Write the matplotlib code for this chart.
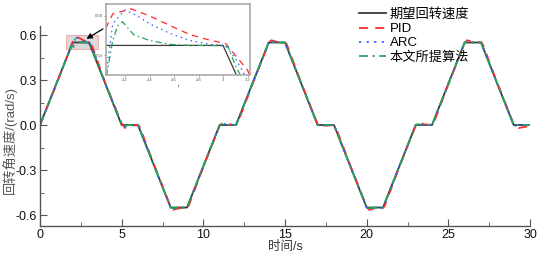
import matplotlib
matplotlib.use("Agg")
import matplotlib.pyplot as plt
from matplotlib.patches import Rectangle

plt.rcParams['font.family'] = ['Liberation Sans', 'Noto Sans CJK SC', 'DejaVu Sans']

# desired angular velocity
t_ref = [0, 2, 3, 5, 6, 8, 9, 11, 12, 14, 15, 17, 18, 20, 21, 23, 24, 26, 27, 29, 30]
v_ref = [0, 0.55, 0.55, 0, 0, -0.55, -0.55, 0, 0, 0.55, 0.55, 0, 0, -0.55, -0.55,
         0, 0, 0.55, 0.55, 0, 0]

# PID
t_pid = [0, 1.0, 1.95, 2.05, 2.1, 2.25, 2.4, 2.57, 2.73, 2.9, 3.02, 3.1, 3.2, 4.0,
         5.0, 5.2, 5.5, 6.0, 6.1, 7.0, 8.0, 8.15, 8.5, 9.0, 9.1, 10.0,
         11.0, 11.2, 11.5, 12.0, 12.1, 13.0, 14.0, 14.15, 14.5, 15.0, 15.1, 16.0,
         17.0, 17.2, 17.5, 18.0, 18.1, 19.0, 20.0, 20.15, 20.5, 21.0, 21.1, 22.0,
         23.0, 23.2, 23.5, 24.0, 24.1, 25.0, 26.0, 26.15, 26.5, 27.0, 27.1, 28.0,
         29.0, 29.3, 29.8, 30.0]
v_pid = [0, 0.27, 0.54, 0.569, 0.582, 0.587, 0.58, 0.57, 0.561, 0.555, 0.552, 0.54, 0.525, 0.28,
         0.01, -0.02, -0.005, 0.0, -0.01, -0.27, -0.545, -0.565, -0.555, -0.552, -0.54, -0.28,
         -0.005, 0.018, 0.005, 0.0, 0.012, 0.27, 0.545, 0.565, 0.555, 0.552, 0.54, 0.28,
         0.005, -0.018, -0.005, 0.0, -0.012, -0.27, -0.545, -0.565, -0.555, -0.552, -0.54, -0.28,
         -0.005, 0.018, 0.005, 0.0, 0.012, 0.27, 0.545, 0.565, 0.555, 0.552, 0.54, 0.28,
         0.005, -0.02, -0.01, -0.008]

# ARC
t_arc = [0, 1.0, 1.95, 2.05, 2.1, 2.2, 2.3, 2.4, 2.57, 2.73, 2.9, 3.02, 3.1, 3.2, 4.0,
         5.0, 5.2, 5.5, 6.0, 7.0, 8.0, 8.15, 8.5, 9.0, 10.0,
         11.0, 11.2, 11.5, 12.0, 13.0, 14.0, 14.15, 14.5, 15.0, 16.0,
         17.0, 17.2, 17.5, 18.0, 19.0, 20.0, 20.15, 20.5, 21.0, 22.0,
         23.0, 23.2, 23.5, 24.0, 25.0, 26.0, 26.15, 26.5, 27.0, 28.0,
         29.0, 29.2, 29.5, 30.0]
v_arc = [0, 0.275, 0.535, 0.525, 0.572, 0.586, 0.58, 0.572, 0.562, 0.555, 0.551, 0.55, 0.537, 0.515, 0.275,
         0.005, -0.012, 0.0, 0.0, -0.275, -0.548, -0.558, -0.55, -0.55, -0.275,
         0.0, 0.01, 0.0, 0.0, 0.275, 0.548, 0.558, 0.55, 0.55, 0.275,
         0.0, -0.01, 0.0, 0.0, -0.275, -0.548, -0.558, -0.55, -0.55, -0.275,
         0.0, 0.01, 0.0, 0.0, 0.275, 0.548, 0.558, 0.55, 0.55, 0.275,
         0.0, -0.008, 0.0, 0.0]

# proposed method
t_new = [0, 1.0, 1.95, 2.05, 2.1, 2.14, 2.18, 2.27, 2.4, 2.57, 2.73, 2.9, 3.04, 3.1, 3.2, 4.0,
         5.0, 5.2, 5.4, 6.0, 7.0, 8.0, 8.15, 8.4, 9.0, 10.0,
         11.0, 11.15, 11.4, 12.0, 13.0, 14.0, 14.15, 14.4, 15.0, 16.0,
         17.0, 17.15, 17.4, 18.0, 19.0, 20.0, 20.15, 20.4, 21.0, 22.0,
         23.0, 23.15, 23.4, 24.0, 25.0, 26.0, 26.15, 26.4, 27.0, 28.0,
         29.0, 30.0]
v_new = [0, 0.275, 0.53, 0.52, 0.555, 0.57, 0.574, 0.561, 0.555, 0.551, 0.55, 0.55, 0.549, 0.53, 0.505, 0.275,
         0.002, -0.006, 0.0, 0.0, -0.275, -0.55, -0.555, -0.55, -0.55, -0.275,
         0.0, 0.005, 0.0, 0.0, 0.275, 0.55, 0.555, 0.55, 0.55, 0.275,
         0.0, -0.005, 0.0, 0.0, -0.275, -0.55, -0.555, -0.55, -0.55, -0.275,
         0.0, 0.005, 0.0, 0.0, 0.275, 0.55, 0.555, 0.55, 0.55, 0.275,
         0.0, 0.0]

labels = ['期望回转速度', 'PID', 'ARC', '本文所提算法']
c_ref, c_pid, c_arc, c_new = '#3a3a3a', '#ff2a2a', '#2a63ff', '#22a55a'


def draw(ax, lw):
    ax.plot(t_ref, v_ref, color=c_ref, lw=lw, label=labels[0])
    ax.plot(t_pid, v_pid, color=c_pid, lw=lw, ls=(0, (5, 4)), label=labels[1])
    ax.plot(t_arc, v_arc, color=c_arc, lw=lw, ls=(0, (1.2, 3)), label=labels[2])
    ax.plot(t_new, v_new, color=c_new, lw=lw, ls=(0, (5, 2.5, 1.2, 2.5)), label=labels[3])


fig = plt.figure(figsize=(5.41, 2.54), dpi=100)
ax = fig.add_axes([40 / 541, 28 / 254, 490 / 541, 200 / 254])
draw(ax, 1.3)
ax.set_xlim(0, 30)
ax.set_ylim(-0.673, 0.66)
ax.set_xticks([0, 5, 10, 15, 20, 25, 30])
ax.set_xticks([2.5, 7.5, 12.5, 17.5, 22.5, 27.5], minor=True)
ax.set_yticks([-0.6, -0.3, 0.0, 0.3, 0.6])
ax.set_yticks([-0.45, -0.15, 0.15, 0.45], minor=True)
ax.set_yticklabels(['-0.6', '-0.3', '0.0', '0.3', '0.6'])
for s in ['top', 'right']:
    ax.spines[s].set_visible(False)
for s in ['left', 'bottom']:
    ax.spines[s].set_color('#555555')
    ax.spines[s].set_linewidth(1.0)
ax.tick_params(which='both', direction='in', colors='#555555', labelcolor='#111111',
               labelsize=9, pad=2)
ax.tick_params(which='major', length=5)
ax.tick_params(which='minor', length=3)
ax.set_xlabel('时间/s', fontsize=9, color='#333333', labelpad=0)
ax.set_ylabel('回转角速度/(rad/s)', fontsize=9.5, color='#555555', labelpad=1)
ax.yaxis.set_label_coords(-0.048, 0.43)

# highlighted region
ax.add_patch(Rectangle((1.6, 0.51), 1.95, 0.09, facecolor='#d0d0d0', edgecolor='#f0a0a0',
                       lw=0.8, alpha=0.8, zorder=0))
ax.annotate('', xy=(2.7, 0.565), xytext=(4.0, 0.65),
            arrowprops=dict(arrowstyle='-|>', color='black', lw=0.9, mutation_scale=8))

fig.legend(*ax.get_legend_handles_labels(), loc='upper left',
           bbox_to_anchor=(350 / 541, 1 + 1 / 254), frameon=False, fontsize=9.5,
           handlelength=2.0, handletextpad=0.3, labelspacing=0.15, borderpad=0.2)

# inset zoom
axi = fig.add_axes([106 / 541, 179 / 254, 144 / 541, 71 / 254])
draw(axi, 0.9)
axi.set_xlim(2.045, 3.22)
axi.set_ylim(0.52, 0.592)
axi.set_xticks([2.2, 2.4, 2.6, 2.8, 3.0, 3.2])
axi.set_xticklabels(['2.2', '2.4', '2.6', '2.8', '3', '3.2'])
axi.set_yticks([0.54, 0.58])
axi.tick_params(direction='out', length=1.5, width=0.4, labelsize=3, pad=1, colors='#555555')
for s in axi.spines.values():
    s.set_color('#aaaaaa')
    s.set_linewidth(1.2)
axi.set_xlabel('t', fontsize=3, labelpad=1)

fig.savefig('out.png', dpi=100)
